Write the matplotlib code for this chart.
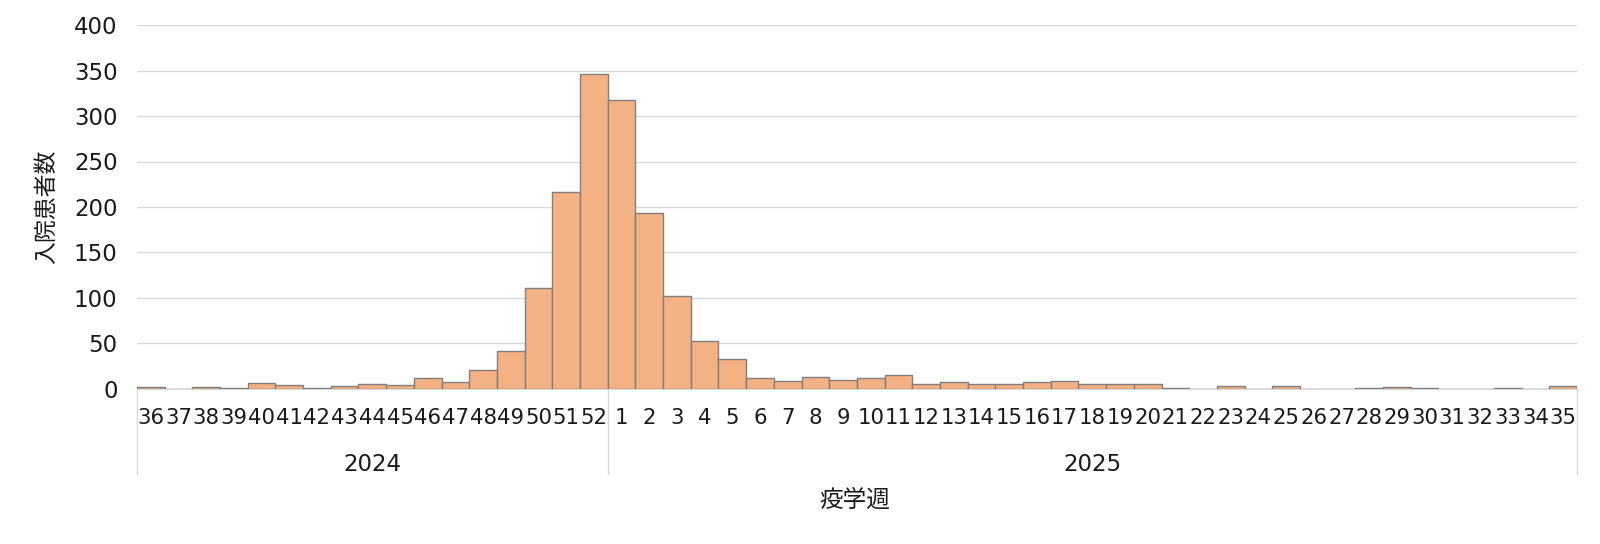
import matplotlib
matplotlib.use("Agg")
import matplotlib.pyplot as plt
import numpy as np

plt.rcParams["font.family"] = ["DejaVu Sans", "Noto Sans CJK JP"]

# epidemiological weeks: 2024 wk36-52, 2025 wk1-35
weeks_2024 = list(range(36, 53))
weeks_2025 = list(range(1, 36))
years = ["2024", "2025"]

counts_2024 = [2, 0, 2, 1, 7, 4, 1, 3, 5, 4, 12, 8, 21, 42, 111, 217, 346]
counts_2025 = [318, 193, 102, 53, 33, 12, 9, 13, 10, 12, 15, 5, 8, 5, 6, 8, 9,
               5, 5, 5, 1, 0, 3, 0, 3, 0, 0, 1, 2, 1, 0, 0, 1, 0, 3]

week_labels = [str(w) for w in weeks_2024 + weeks_2025]
counts = counts_2024 + counts_2025
x = np.arange(len(counts))

fs = 16.5
txt = "#1a1a1a"

fig = plt.figure(figsize=(16, 5.44), dpi=100)
ax = fig.add_axes([0.0856, 0.285, 0.9, 0.669])

ax.bar(x, counts, width=1.0, color="#f4b183", edgecolor="#7f7f7f", linewidth=1.0, zorder=3)

ax.set_xlim(-0.5, len(counts) - 0.5)
ax.set_ylim(0, 400)
ax.set_yticks(np.arange(0, 401, 50))
ax.yaxis.grid(True, color="#d9d9d9", linewidth=1.0, zorder=0)
ax.set_axisbelow(True)
for s in ["left", "right", "top"]:
    ax.spines[s].set_visible(False)
ax.spines["bottom"].set_color("#d9d9d9")
ax.tick_params(axis="y", length=0, pad=14, labelsize=fs, labelcolor=txt)

ax.set_xticks(x)
ax.set_xticklabels(week_labels)
ax.tick_params(axis="x", length=0, pad=14, labelsize=15.3, labelcolor=txt)

# year group separators and labels
n24 = len(weeks_2024)
sep = ax.secondary_xaxis("bottom")
sep.set_xticks([-0.5, n24 - 0.5, len(counts) - 0.5])
sep.set_xticklabels([])
sep.tick_params(length=61, width=1.0, color="#d9d9d9")
sep.spines["bottom"].set_visible(False)

yr = ax.secondary_xaxis("bottom")
yr.set_xticks([(n24 - 1) / 2, n24 + (len(weeks_2025) - 1) / 2])
yr.set_xticklabels(years)
yr.tick_params(length=0, pad=46, labelsize=fs, labelcolor=txt)
yr.spines["bottom"].set_visible(False)

ax.set_ylabel("入院患者数", fontsize=fs, labelpad=11, color=txt)
fig.text(0.534, 1 - 500 / 544, "疫学週", ha="center", va="center", fontsize=17, color=txt)

fig.savefig("out.png", dpi=100)
